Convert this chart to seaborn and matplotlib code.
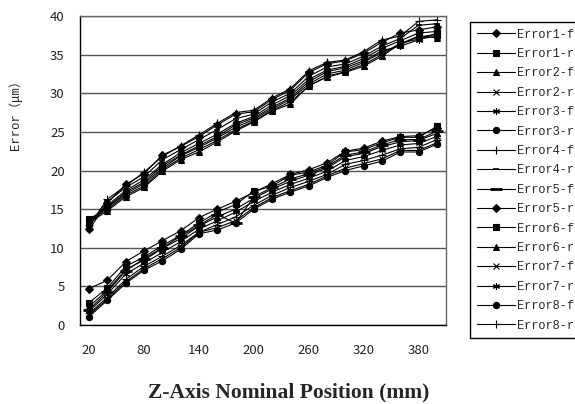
import numpy as np
import pandas as pd
import matplotlib
matplotlib.use("Agg")
import matplotlib.pyplot as plt
import seaborn as sns

positions = [20, 40, 60, 80, 100, 120, 140, 160, 180, 200,
             220, 240, 260, 280, 300, 320, 340, 360, 380, 400]
tick_labels = [20, 80, 140, 200, 260, 320, 380]

error1_f = [4.7, 5.8, 8.2, 9.6, 10.9, 12.2, 13.9, 15.0, 16.0, 17.2, 18.3, 19.5, 20.1, 21.0, 22.5, 22.9, 23.8, 24.4, 24.5, 25.5]
error1_r = [13.7, 15.2, 17.0, 18.3, 20.3, 21.9, 23.0, 24.2, 25.6, 26.6, 28.0, 29.2, 31.2, 32.5, 33.0, 34.0, 35.3, 36.3, 37.3, 37.6]
error2_f = [2.4, 4.5, 7.2, 8.4, 9.9, 11.2, 12.8, 14.0, 15.0, 16.4, 17.6, 18.6, 19.4, 20.3, 21.8, 22.2, 23.1, 23.7, 23.9, 24.8]
error2_r = [13.4, 15.0, 16.8, 18.0, 20.1, 21.6, 22.7, 23.9, 25.3, 26.4, 27.8, 28.9, 30.9, 32.2, 32.8, 33.7, 35.0, 36.5, 37.0, 37.4]
error3_f = [1.8, 4.0, 6.6, 8.0, 9.4, 10.8, 12.4, 13.5, 14.6, 16.0, 17.2, 18.2, 19.0, 19.9, 21.3, 21.8, 22.6, 23.3, 23.5, 24.4]
error3_r = [13.0, 15.5, 17.4, 18.8, 20.8, 22.3, 23.5, 24.7, 26.1, 27.0, 28.5, 29.7, 31.8, 33.0, 33.5, 34.5, 35.8, 36.8, 37.8, 38.0]
error4_f = [1.5, 3.6, 5.9, 7.6, 8.9, 10.3, 12.0, 13.0, 14.0, 15.5, 16.8, 17.8, 18.6, 19.5, 20.8, 21.3, 22.0, 22.8, 23.0, 24.0]
error4_r = [12.8, 16.0, 17.8, 19.2, 21.4, 22.7, 24.0, 25.3, 26.7, 27.3, 28.9, 30.0, 32.2, 33.4, 33.8, 34.8, 36.1, 37.1, 38.8, 39.0]
error5_f = [2.0, 4.3, 7.0, 8.6, 10.0, 11.5, 12.9, 14.3, 13.2, 16.6, 17.8, 18.9, 19.6, 20.5, 22.0, 22.4, 23.3, 24.0, 24.0, 25.1]
error5_r = [12.4, 15.8, 18.2, 19.6, 22.0, 23.1, 24.4, 25.9, 27.3, 27.6, 29.2, 30.4, 32.7, 33.8, 34.2, 35.2, 36.6, 37.8, 38.2, 38.6]
error6_f = [2.9, 4.8, 7.6, 8.8, 10.3, 11.6, 13.2, 14.6, 15.6, 17.3, 18.0, 19.4, 19.8, 20.7, 22.4, 22.7, 23.6, 24.3, 24.3, 25.7]
error6_r = [13.2, 14.8, 16.6, 17.8, 19.9, 21.4, 22.4, 23.7, 25.1, 26.3, 27.7, 28.6, 31.0, 32.1, 32.7, 33.5, 34.8, 36.4, 37.4, 37.2]
error7_f = [1.3, 3.4, 5.6, 7.3, 8.6, 10.0, 12.0, 12.6, 13.5, 15.2, 16.5, 17.4, 18.2, 19.3, 20.3, 20.9, 21.5, 22.6, 22.6, 23.6]
error7_r = [13.5, 15.3, 17.2, 18.5, 20.6, 22.0, 23.2, 24.4, 25.9, 26.8, 28.2, 29.4, 31.5, 32.8, 33.3, 34.2, 35.5, 36.1, 36.9, 37.8]
error8_f = [1.1, 3.2, 5.4, 7.1, 8.3, 9.8, 11.8, 12.3, 13.2, 15.0, 16.3, 17.2, 18.0, 19.1, 20.0, 20.6, 21.2, 22.4, 22.4, 23.4]
error8_r = [12.9, 16.3, 18.0, 19.8, 21.8, 23.2, 24.6, 26.1, 27.5, 27.8, 29.4, 30.6, 32.9, 34.0, 34.3, 35.4, 36.9, 37.4, 39.3, 39.5]

series_names = ["Error1-f", "Error1-r", "Error2-f", "Error2-r", "Error3-f", "Error3-r",
                "Error4-f", "Error4-r", "Error5-f", "Error5-r", "Error6-f", "Error6-r",
                "Error7-f", "Error7-r", "Error8-f", "Error8-r"]
series_values = [error1_f, error1_r, error2_f, error2_r, error3_f, error3_r,
                 error4_f, error4_r, error5_f, error5_r, error6_f, error6_r,
                 error7_f, error7_r, error8_f, error8_r]

rows = []
for name, vals in zip(series_names, series_values):
    for p, v in zip(positions, vals):
        rows.append({"pos": p, "err": v, "series": name})
df = pd.DataFrame(rows)

star = (6, 2, 0)
marker_list = ["D", "s", "^", "x", star, "o", "+", "_",
               "_", "D", "s", "^", "x", star, "o", "+"]
msizes = [4.5, 4.5, 5, 4.5, 5, 4.5, 6, 4,
          8, 4.5, 4.5, 5, 4.5, 5, 4.5, 6]
mews = [0.8, 0.8, 0.8, 0.8, 0.8, 0.8, 0.8, 1.2,
        2.0, 0.8, 0.8, 0.8, 0.8, 0.8, 0.8, 0.8]

sns.set_style("white")
plt.rcParams["font.family"] = ["Noto Sans CJK SC", "DejaVu Sans"]

fig = plt.figure(figsize=(5.75, 4.04), dpi=100)
ax = fig.add_axes([80 / 575, 1 - 325 / 404, (446 - 80) / 575, (325 - 16) / 404])

sns.lineplot(data=df, x="pos", y="err", style="series", style_order=series_names,
             markers=False, dashes=False, color="black", errorbar=None,
             linewidth=0.8, legend=False, ax=ax, sort=False)

lines = ax.get_lines()[:16]
for ln, mk, ms, mw in zip(lines, marker_list, msizes, mews):
    ln.set_marker(mk)
    ln.set_markersize(ms)
    ln.set_markeredgewidth(mw)
    ln.set_markeredgecolor("black")
    ln.set_markerfacecolor("black")
    ln.set_color("black")

ax.set_xlim(10, 410)
ax.set_ylim(0, 40)
ax.set_yticks(range(0, 41, 5))
ax.set_xticks(tick_labels)
ax.set_xticklabels([str(t) for t in tick_labels])
ax.set_xticks(np.arange(30, 400, 20), minor=True)
ax.tick_params(axis="x", which="major", length=0, pad=14, labelsize=9.5, colors="#222222")
ax.tick_params(axis="x", which="minor", direction="in", length=4, width=1, color="black")
ax.tick_params(axis="y", length=0, pad=11, labelsize=9.5, colors="#222222")
ax.yaxis.grid(True, color="#555555", linewidth=1)
ax.set_axisbelow(True)
for s in ["left", "bottom"]:
    ax.spines[s].set_color("black")
    ax.spines[s].set_linewidth(1)
for s in ["top", "right"]:
    ax.spines[s].set_color("#666666")
    ax.spines[s].set_linewidth(1)
ax.set_xlabel("")
ax.set_ylabel("")

fig.text(15 / 575, 1 - 112 / 404, "Error（μm）", rotation=90, ha="center", va="center",
         fontsize=8.8, family=["Liberation Mono", "Noto Sans CJK SC"], color="#222222")

fig.text(289 / 575, 1 - 397 / 404, "Z-Axis Nominal Position (mm)", ha="center", va="baseline",
         fontsize=15.5, fontweight="bold", family="Liberation Serif")

leg = fig.legend(lines, series_names, loc="upper left",
                 bbox_to_anchor=(470 / 575, 1 - 22 / 404), borderaxespad=0,
                 frameon=True, fancybox=False, framealpha=1, edgecolor="black",
                 prop={"family": "Liberation Mono", "size": 8.6},
                 handlelength=3.2, handletextpad=0.2, labelspacing=0.62,
                 borderpad=0.55)
leg.get_frame().set_linewidth(1)

fig.savefig("out.png", dpi=100)
